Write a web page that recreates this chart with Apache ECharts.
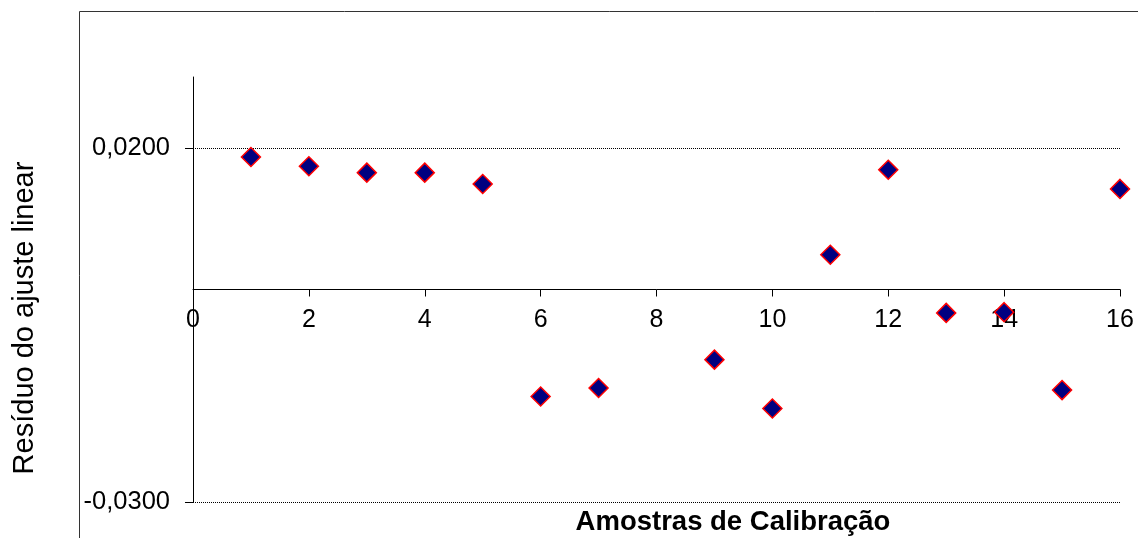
<!DOCTYPE html>
<html>
<head>
<meta charset="utf-8">
<script src="https://cdn.jsdelivr.net/npm/echarts@6/dist/echarts.min.js"></script>
<style>
html,body{margin:0;padding:0;background:#fff;}
#c{width:1138px;height:538px;}
</style>
</head>
<body>
<div id="c"></div>
<script>
// Data
const sampleX = [1, 2, 3, 4, 5, 6, 7, 9, 10, 11, 12, 13, 14, 15, 16];
const residuals = [0.0187, 0.0174, 0.0165, 0.0165, 0.0149, -0.0151, -0.0139, -0.0099, -0.0168, 0.0049, 0.0169, -0.0033, -0.0032, -0.0142, 0.0142];
const yTickValues = [-0.03, 0.02];
const xTitle = 'Amostras de Calibração';
const yTitle = 'Resíduo do ajuste linear';

const Y_MIN = -0.03, Y_MAX = 0.03;
const GRID = {left: 193, right: 18, top: 77, bottom: 36};
const plotH = 538 - GRID.top - GRID.bottom;
// place the x axis at y = 0 through the value scale
const xAxisOffset = -((0 - Y_MIN) / (Y_MAX - Y_MIN)) * plotH;

const FONT = '"Liberation Sans", Arial, sans-serif';
const chart = echarts.init(document.getElementById('c'), null, {renderer: 'canvas'});
chart.setOption({
  animation: false,
  backgroundColor: '#fff',
  grid: Object.assign({containLabel: false, outerBoundsMode: 'none'}, GRID),
  xAxis: {
    type: 'value', min: 0, max: 16, interval: 2,
    position: 'bottom',
    offset: xAxisOffset,
    axisLine: {show: true, onZero: false, lineStyle: {color: '#000', width: 1}},
    axisTick: {show: true, length: 7, lineStyle: {color: '#000'}},
    axisLabel: {color: '#000', fontSize: 25, fontFamily: FONT, margin: 18},
    splitLine: {show: false}
  },
  yAxis: {
    type: 'value', min: Y_MIN, max: Y_MAX, interval: 0.05,
    axisLine: {show: true, onZero: false, lineStyle: {color: '#000', width: 1}},
    axisTick: {show: true, length: 8, customValues: yTickValues, lineStyle: {color: '#000'}},
    axisLabel: {
      color: '#000', fontSize: 25.5, fontFamily: FONT, margin: 23,
      customValues: yTickValues,
      formatter: v => v.toFixed(4).replace('.', ',')
    },
    splitLine: {show: true, lineStyle: {color: '#000', type: 'dotted', width: 1}}
  },
  graphic: [
    {type: 'rect', shape: {x: 79.5, y: 11.5, width: 1100, height: 600}, style: {fill: 'none', stroke: '#333', lineWidth: 1}, silent: true, z: -1},
    {type: 'text', x: 25, y: 318, rotation: Math.PI / 2,
     style: {text: yTitle, font: '29px ' + FONT, fill: '#000', textAlign: 'center', textVerticalAlign: 'middle'}},
    {type: 'text', x: 733, y: 522,
     style: {text: xTitle, font: 'bold 27.5px ' + FONT, fill: '#000', textAlign: 'center', textVerticalAlign: 'middle'}}
  ],
  series: [{
    type: 'scatter',
    data: sampleX.map((x, i) => [x, residuals[i]]),
    symbol: 'diamond',
    symbolSize: 19,
    itemStyle: {color: '#000080', borderColor: '#ff0000', borderWidth: 1.5, opacity: 1},
    z: 5,
    markLine: {
      silent: true,
      symbol: 'none',
      label: {show: false},
      lineStyle: {color: '#000', width: 1, type: 'solid', opacity: 1},
      data: [[{coord: [0, Y_MIN]}, {coord: [0, Y_MAX]}]],
      z: 1
    }
  }]
});
</script>
</body>
</html>
